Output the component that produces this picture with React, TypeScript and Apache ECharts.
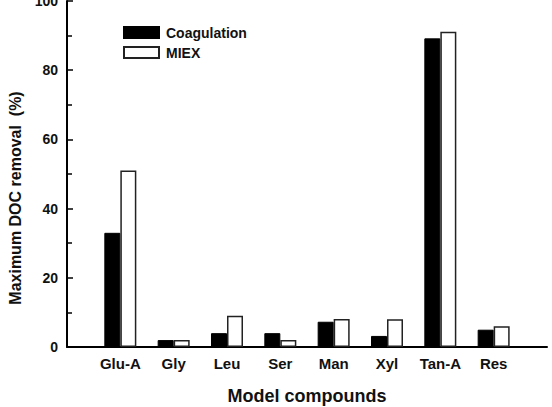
import React, { useEffect, useRef } from "react";
import * as echarts from "echarts";

const categories = ["Glu-A", "Gly", "Leu", "Ser", "Man", "Xyl", "Tan-A", "Res"];
const coagulation = [33, 2, 4, 4, 7.3, 3.2, 89.2, 5];
const miex = [51, 2, 9, 2, 8.1, 8, 91.1, 6];
const yTicks = { min: 0, max: 100, interval: 20 };

const FONT = "'Liberation Sans', Arial, Helvetica, sans-serif";

export default function App() {
  const ref = useRef<HTMLDivElement>(null);
  useEffect(() => {
    if (!ref.current) return;
    const chart = echarts.init(ref.current, undefined, { renderer: "svg" });
    const cats = ["", ...categories, ""];
    const pad = (a: number[]) => [null, ...a, null];
    chart.setOption({
      animation: false,
      backgroundColor: "#ffffff",
      textStyle: { fontFamily: FONT },
      grid: { left: 67, right: 5, top: 1, bottom: 60, containLabel: false, outerBoundsMode: "none" },
      legend: {
        orient: "vertical",
        left: 123,
        top: 25.5,
        padding: 0,
        itemWidth: 35,
        itemHeight: 11,
        itemGap: 6,
        icon: "rect",
        textStyle: { fontFamily: FONT, fontWeight: "bold", fontSize: 14, color: "#111", padding: [0, 0, 0, 2] },
        data: ["Coagulation", "MIEX"],
      },
      xAxis: {
        type: "category",
        data: cats,
        boundaryGap: false,
        axisLine: { lineStyle: { color: "#000", width: 2 } },
        axisTick: { show: false },
        axisLabel: { interval: 0, fontFamily: FONT, fontWeight: "bold", fontSize: 15, color: "#111", margin: 9 },
        splitLine: { show: false },
      },
      yAxis: {
        type: "value",
        min: yTicks.min,
        max: yTicks.max,
        interval: yTicks.interval,
        axisLine: { show: true, lineStyle: { color: "#000", width: 2 } },
        axisTick: { show: true, inside: true, length: 6, lineStyle: { color: "#000", width: 1.5 } },
        minorTick: { show: true, splitNumber: 2, length: 5, lineStyle: { color: "#000", width: 1.5 } },
        axisLabel: { fontFamily: FONT, fontWeight: "bold", fontSize: 14, color: "#111", margin: 9 },
        splitLine: { show: false },
      },
      graphic: [
        {
          type: "text",
          x: 15,
          y: 198,
          rotation: Math.PI / 2,
          style: {
            text: "Maximum DOC removal  (%)",
            fontFamily: FONT,
            fontWeight: "bold",
            fontSize: 16,
            fill: "#111",
            textAlign: "center",
            textVerticalAlign: "middle",
          },
        },
        {
          type: "text",
          x: 307,
          y: 396,
          style: {
            text: "Model compounds",
            fontFamily: FONT,
            fontWeight: "bold",
            fontSize: 18,
            fill: "#111",
            textAlign: "center",
            textVerticalAlign: "middle",
          },
        },
      ],
      series: [
        {
          name: "Coagulation",
          type: "bar",
          data: pad(coagulation),
          barWidth: 16,
          barGap: "0%",
          itemStyle: { color: "#000", borderColor: "#000", borderWidth: 1 },
        },
        {
          name: "MIEX",
          type: "bar",
          data: pad(miex),
          barWidth: 16,
          barGap: "0%",
          itemStyle: { color: "#fff", borderColor: "#222", borderWidth: 1.5 },
        },
      ],
    });
    return () => chart.dispose();
  }, []);
  return (
    <div
      ref={ref}
      style={{ position: "fixed", left: 0, top: 0, width: 552, height: 407, background: "#fff" }}
    />
  );
}
